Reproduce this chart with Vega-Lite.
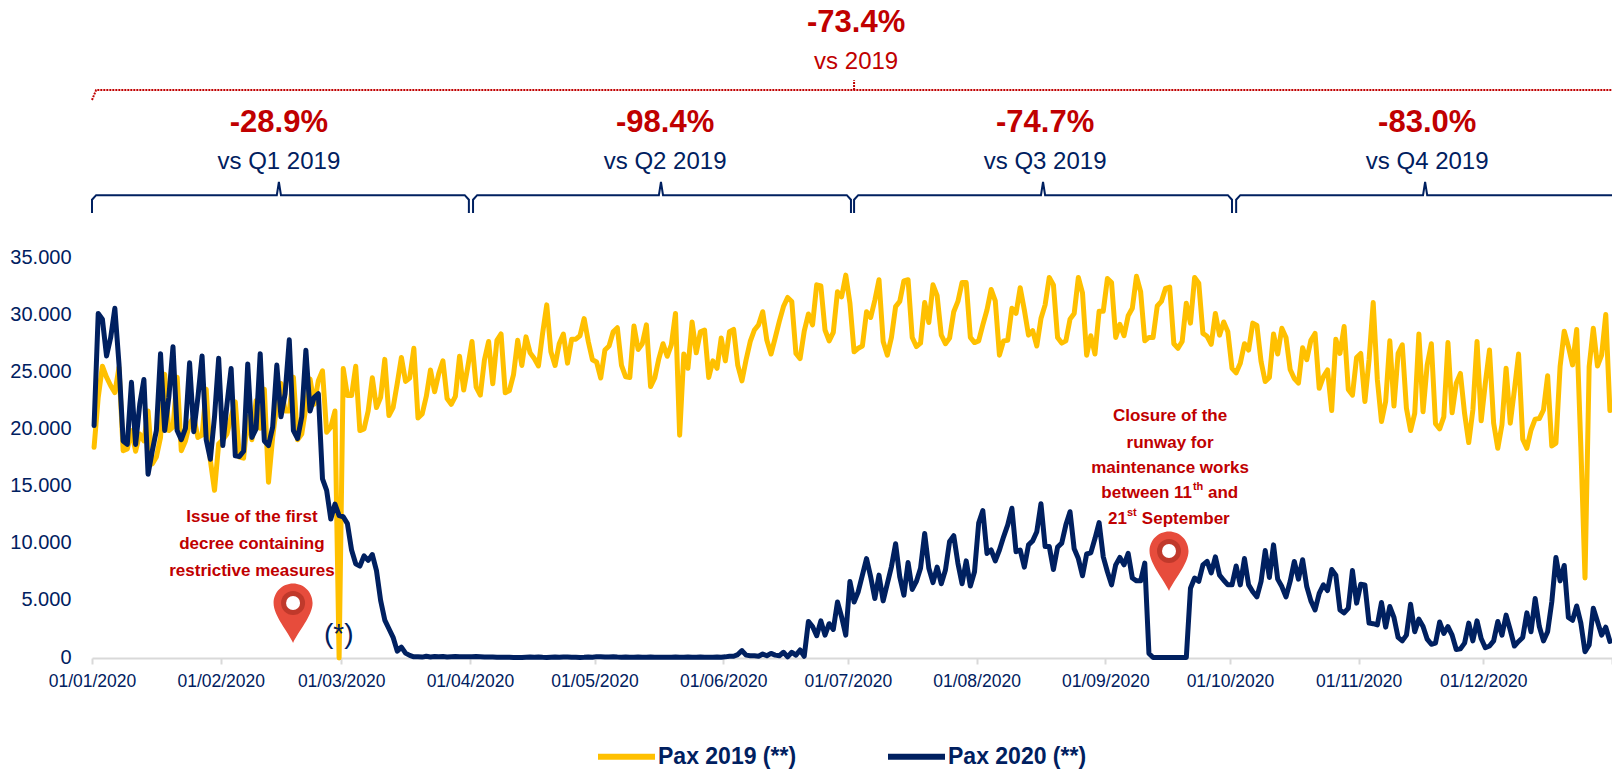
{
"$schema":"https://vega.github.io/schema/vega-lite/v6.json",
"width":1520,"height":400,
"autosize":{"type":"none"},
"padding":{"left":92,"top":258,"right":0,"bottom":111},
"background":"white",
"config":{"view":{"stroke":null},"font":"Liberation Sans"},
"datasets":{
"daily":[
{"date":"2020-01-01","Pax 2019":18440,"Pax 2020":20340},
{"date":"2020-01-02","Pax 2019":22810,"Pax 2020":30150},
{"date":"2020-01-03","Pax 2019":25530,"Pax 2020":29650},
{"date":"2020-01-04","Pax 2019":24570,"Pax 2020":26430},
{"date":"2020-01-05","Pax 2019":23820,"Pax 2020":28040},
{"date":"2020-01-06","Pax 2019":23220,"Pax 2020":30600},
{"date":"2020-01-07","Pax 2019":25430,"Pax 2020":25730},
{"date":"2020-01-08","Pax 2019":18140,"Pax 2020":18990},
{"date":"2020-01-09","Pax 2019":18290,"Pax 2020":18690},
{"date":"2020-01-10","Pax 2019":19900,"Pax 2020":24120},
{"date":"2020-01-11","Pax 2019":18090,"Pax 2020":18690},
{"date":"2020-01-12","Pax 2019":19600,"Pax 2020":22210},
{"date":"2020-01-13","Pax 2019":18990,"Pax 2020":24370},
{"date":"2020-01-14","Pax 2019":21610,"Pax 2020":16080},
{"date":"2020-01-15","Pax 2019":16980,"Pax 2020":18090},
{"date":"2020-01-16","Pax 2019":17590,"Pax 2020":19900},
{"date":"2020-01-17","Pax 2019":19300,"Pax 2020":26630},
{"date":"2020-01-18","Pax 2019":24820,"Pax 2020":19900},
{"date":"2020-01-19","Pax 2019":19900,"Pax 2020":22810},
{"date":"2020-01-20","Pax 2019":20200,"Pax 2020":27240},
{"date":"2020-01-21","Pax 2019":24570,"Pax 2020":19900},
{"date":"2020-01-22","Pax 2019":18140,"Pax 2020":19100},
{"date":"2020-01-23","Pax 2019":18990,"Pax 2020":20100},
{"date":"2020-01-24","Pax 2019":20500,"Pax 2020":25830},
{"date":"2020-01-25","Pax 2019":21100,"Pax 2020":19800},
{"date":"2020-01-26","Pax 2019":19300,"Pax 2020":22810},
{"date":"2020-01-27","Pax 2019":19500,"Pax 2020":26430},
{"date":"2020-01-28","Pax 2019":23520,"Pax 2020":19100},
{"date":"2020-01-29","Pax 2019":17290,"Pax 2020":17390},
{"date":"2020-01-30","Pax 2019":14670,"Pax 2020":21100},
{"date":"2020-01-31","Pax 2019":18740,"Pax 2020":26230},
{"date":"2020-02-01","Pax 2019":19100,"Pax 2020":18590},
{"date":"2020-02-02","Pax 2019":19600,"Pax 2020":22210},
{"date":"2020-02-03","Pax 2019":21100,"Pax 2020":25330},
{"date":"2020-02-04","Pax 2019":22410,"Pax 2020":17690},
{"date":"2020-02-05","Pax 2019":17590,"Pax 2020":17640},
{"date":"2020-02-06","Pax 2019":17490,"Pax 2020":18090},
{"date":"2020-02-07","Pax 2019":21100,"Pax 2020":25730},
{"date":"2020-02-08","Pax 2019":19100,"Pax 2020":19300},
{"date":"2020-02-09","Pax 2019":22510,"Pax 2020":20050},
{"date":"2020-02-10","Pax 2019":20100,"Pax 2020":26630},
{"date":"2020-02-11","Pax 2019":23520,"Pax 2020":18990},
{"date":"2020-02-12","Pax 2019":15380,"Pax 2020":18590},
{"date":"2020-02-13","Pax 2019":19300,"Pax 2020":20200},
{"date":"2020-02-14","Pax 2019":22210,"Pax 2020":25630},
{"date":"2020-02-15","Pax 2019":24020,"Pax 2020":21100},
{"date":"2020-02-16","Pax 2019":21610,"Pax 2020":23120},
{"date":"2020-02-17","Pax 2019":21610,"Pax 2020":27840},
{"date":"2020-02-18","Pax 2019":24570,"Pax 2020":19900},
{"date":"2020-02-19","Pax 2019":19100,"Pax 2020":19200},
{"date":"2020-02-20","Pax 2019":19600,"Pax 2020":21100},
{"date":"2020-02-21","Pax 2019":21910,"Pax 2020":26930},
{"date":"2020-02-22","Pax 2019":24420,"Pax 2020":21610},
{"date":"2020-02-23","Pax 2019":22210,"Pax 2020":22810},
{"date":"2020-02-24","Pax 2019":24270,"Pax 2020":23120},
{"date":"2020-02-25","Pax 2019":25130,"Pax 2020":15680},
{"date":"2020-02-26","Pax 2019":19750,"Pax 2020":14670},
{"date":"2020-02-27","Pax 2019":20200,"Pax 2020":12160},
{"date":"2020-02-28","Pax 2019":21610,"Pax 2020":13470},
{"date":"2020-02-29","Pax 2019":0,"Pax 2020":12460},
{"date":"2020-03-01","Pax 2019":25330,"Pax 2020":12360},
{"date":"2020-03-02","Pax 2019":22960,"Pax 2020":11760},
{"date":"2020-03-03","Pax 2019":22960,"Pax 2020":9450},
{"date":"2020-03-04","Pax 2019":25530,"Pax 2020":8240},
{"date":"2020-03-05","Pax 2019":19900,"Pax 2020":8040},
{"date":"2020-03-06","Pax 2019":20050,"Pax 2020":8940},
{"date":"2020-03-07","Pax 2019":21610,"Pax 2020":8540},
{"date":"2020-03-08","Pax 2019":24520,"Pax 2020":9050},
{"date":"2020-03-09","Pax 2019":21910,"Pax 2020":7640},
{"date":"2020-03-10","Pax 2019":22810,"Pax 2020":5030},
{"date":"2020-03-11","Pax 2019":26130,"Pax 2020":3320},
{"date":"2020-03-12","Pax 2019":21210,"Pax 2020":2560},
{"date":"2020-03-13","Pax 2019":21910,"Pax 2020":1810},
{"date":"2020-03-14","Pax 2019":24020,"Pax 2020":600},
{"date":"2020-03-15","Pax 2019":26300,"Pax 2020":950},
{"date":"2020-03-16","Pax 2019":24200,"Pax 2020":430},
{"date":"2020-03-17","Pax 2019":24500,"Pax 2020":230},
{"date":"2020-03-18","Pax 2019":27100,"Pax 2020":100},
{"date":"2020-03-19","Pax 2019":21000,"Pax 2020":100},
{"date":"2020-03-20","Pax 2019":21350,"Pax 2020":80},
{"date":"2020-03-21","Pax 2019":22900,"Pax 2020":150},
{"date":"2020-03-22","Pax 2019":25200,"Pax 2020":90},
{"date":"2020-03-23","Pax 2019":23300,"Pax 2020":130},
{"date":"2020-03-24","Pax 2019":24900,"Pax 2020":100},
{"date":"2020-03-25","Pax 2019":26000,"Pax 2020":140},
{"date":"2020-03-26","Pax 2019":22700,"Pax 2020":90},
{"date":"2020-03-27","Pax 2019":22200,"Pax 2020":110},
{"date":"2020-03-28","Pax 2019":22900,"Pax 2020":130},
{"date":"2020-03-29","Pax 2019":26400,"Pax 2020":100},
{"date":"2020-03-30","Pax 2019":23450,"Pax 2020":120},
{"date":"2020-03-31","Pax 2019":25500,"Pax 2020":110},
{"date":"2020-04-01","Pax 2019":27700,"Pax 2020":100},
{"date":"2020-04-02","Pax 2019":23700,"Pax 2020":130},
{"date":"2020-04-03","Pax 2019":23000,"Pax 2020":110},
{"date":"2020-04-04","Pax 2019":26100,"Pax 2020":90},
{"date":"2020-04-05","Pax 2019":27700,"Pax 2020":80},
{"date":"2020-04-06","Pax 2019":24000,"Pax 2020":90},
{"date":"2020-04-07","Pax 2019":27800,"Pax 2020":70},
{"date":"2020-04-08","Pax 2019":28350,"Pax 2020":60},
{"date":"2020-04-09","Pax 2019":23200,"Pax 2020":70},
{"date":"2020-04-10","Pax 2019":23400,"Pax 2020":60},
{"date":"2020-04-11","Pax 2019":24800,"Pax 2020":50},
{"date":"2020-04-12","Pax 2019":27800,"Pax 2020":40},
{"date":"2020-04-13","Pax 2019":25600,"Pax 2020":50},
{"date":"2020-04-14","Pax 2019":28100,"Pax 2020":70},
{"date":"2020-04-15","Pax 2019":26700,"Pax 2020":90},
{"date":"2020-04-16","Pax 2019":26200,"Pax 2020":70},
{"date":"2020-04-17","Pax 2019":25550,"Pax 2020":90},
{"date":"2020-04-18","Pax 2019":28400,"Pax 2020":60},
{"date":"2020-04-19","Pax 2019":30900,"Pax 2020":50},
{"date":"2020-04-20","Pax 2019":26800,"Pax 2020":70},
{"date":"2020-04-21","Pax 2019":25600,"Pax 2020":90},
{"date":"2020-04-22","Pax 2019":27500,"Pax 2020":70},
{"date":"2020-04-23","Pax 2019":28350,"Pax 2020":90},
{"date":"2020-04-24","Pax 2019":25800,"Pax 2020":80},
{"date":"2020-04-25","Pax 2019":27900,"Pax 2020":60},
{"date":"2020-04-26","Pax 2019":27900,"Pax 2020":70},
{"date":"2020-04-27","Pax 2019":28200,"Pax 2020":50},
{"date":"2020-04-28","Pax 2019":29700,"Pax 2020":60},
{"date":"2020-04-29","Pax 2019":27700,"Pax 2020":90},
{"date":"2020-04-30","Pax 2019":26100,"Pax 2020":70},
{"date":"2020-05-01","Pax 2019":25900,"Pax 2020":120},
{"date":"2020-05-02","Pax 2019":24500,"Pax 2020":100},
{"date":"2020-05-03","Pax 2019":26950,"Pax 2020":80},
{"date":"2020-05-04","Pax 2019":27300,"Pax 2020":90},
{"date":"2020-05-05","Pax 2019":28550,"Pax 2020":100},
{"date":"2020-05-06","Pax 2019":28900,"Pax 2020":80},
{"date":"2020-05-07","Pax 2019":25600,"Pax 2020":70},
{"date":"2020-05-08","Pax 2019":24600,"Pax 2020":90},
{"date":"2020-05-09","Pax 2019":24550,"Pax 2020":70},
{"date":"2020-05-10","Pax 2019":29050,"Pax 2020":60},
{"date":"2020-05-11","Pax 2019":27000,"Pax 2020":80},
{"date":"2020-05-12","Pax 2019":27500,"Pax 2020":70},
{"date":"2020-05-13","Pax 2019":29150,"Pax 2020":70},
{"date":"2020-05-14","Pax 2019":23750,"Pax 2020":90},
{"date":"2020-05-15","Pax 2019":24500,"Pax 2020":70},
{"date":"2020-05-16","Pax 2019":26200,"Pax 2020":60},
{"date":"2020-05-17","Pax 2019":27500,"Pax 2020":70},
{"date":"2020-05-18","Pax 2019":26400,"Pax 2020":60},
{"date":"2020-05-19","Pax 2019":27400,"Pax 2020":70},
{"date":"2020-05-20","Pax 2019":30150,"Pax 2020":80},
{"date":"2020-05-21","Pax 2019":19500,"Pax 2020":60},
{"date":"2020-05-22","Pax 2019":26600,"Pax 2020":70},
{"date":"2020-05-23","Pax 2019":25350,"Pax 2020":80},
{"date":"2020-05-24","Pax 2019":29400,"Pax 2020":70},
{"date":"2020-05-25","Pax 2019":26700,"Pax 2020":60},
{"date":"2020-05-26","Pax 2019":28550,"Pax 2020":90},
{"date":"2020-05-27","Pax 2019":28700,"Pax 2020":70},
{"date":"2020-05-28","Pax 2019":24550,"Pax 2020":60},
{"date":"2020-05-29","Pax 2019":26000,"Pax 2020":70},
{"date":"2020-05-30","Pax 2019":25350,"Pax 2020":80},
{"date":"2020-05-31","Pax 2019":28000,"Pax 2020":70},
{"date":"2020-06-01","Pax 2019":26000,"Pax 2020":100},
{"date":"2020-06-02","Pax 2019":28550,"Pax 2020":150},
{"date":"2020-06-03","Pax 2019":28750,"Pax 2020":150},
{"date":"2020-06-04","Pax 2019":25600,"Pax 2020":300},
{"date":"2020-06-05","Pax 2019":24250,"Pax 2020":650},
{"date":"2020-06-06","Pax 2019":26100,"Pax 2020":250},
{"date":"2020-06-07","Pax 2019":27700,"Pax 2020":200},
{"date":"2020-06-08","Pax 2019":28700,"Pax 2020":200},
{"date":"2020-06-09","Pax 2019":29150,"Pax 2020":150},
{"date":"2020-06-10","Pax 2019":30300,"Pax 2020":350},
{"date":"2020-06-11","Pax 2019":27800,"Pax 2020":200},
{"date":"2020-06-12","Pax 2019":26600,"Pax 2020":400},
{"date":"2020-06-13","Pax 2019":28000,"Pax 2020":250},
{"date":"2020-06-14","Pax 2019":29450,"Pax 2020":200},
{"date":"2020-06-15","Pax 2019":30750,"Pax 2020":500},
{"date":"2020-06-16","Pax 2019":31550,"Pax 2020":100},
{"date":"2020-06-17","Pax 2019":31200,"Pax 2020":500},
{"date":"2020-06-18","Pax 2019":26650,"Pax 2020":250},
{"date":"2020-06-19","Pax 2019":26200,"Pax 2020":700},
{"date":"2020-06-20","Pax 2019":28600,"Pax 2020":150},
{"date":"2020-06-21","Pax 2019":30100,"Pax 2020":3200},
{"date":"2020-06-22","Pax 2019":29150,"Pax 2020":2750},
{"date":"2020-06-23","Pax 2019":32650,"Pax 2020":1950},
{"date":"2020-06-24","Pax 2019":32550,"Pax 2020":3250},
{"date":"2020-06-25","Pax 2019":28700,"Pax 2020":2000},
{"date":"2020-06-26","Pax 2019":27750,"Pax 2020":3000},
{"date":"2020-06-27","Pax 2019":28500,"Pax 2020":2500},
{"date":"2020-06-28","Pax 2019":32050,"Pax 2020":4900},
{"date":"2020-06-29","Pax 2019":31600,"Pax 2020":3600},
{"date":"2020-06-30","Pax 2019":33500,"Pax 2020":2000},
{"date":"2020-07-01","Pax 2019":31050,"Pax 2020":6700},
{"date":"2020-07-02","Pax 2019":26800,"Pax 2020":4900},
{"date":"2020-07-03","Pax 2019":27100,"Pax 2020":5800},
{"date":"2020-07-04","Pax 2019":27300,"Pax 2020":7250},
{"date":"2020-07-05","Pax 2019":30300,"Pax 2020":8700},
{"date":"2020-07-06","Pax 2019":29800,"Pax 2020":7100},
{"date":"2020-07-07","Pax 2019":31300,"Pax 2020":5200},
{"date":"2020-07-08","Pax 2019":33100,"Pax 2020":7250},
{"date":"2020-07-09","Pax 2019":27700,"Pax 2020":5000},
{"date":"2020-07-10","Pax 2019":26500,"Pax 2020":6500},
{"date":"2020-07-11","Pax 2019":28050,"Pax 2020":8000},
{"date":"2020-07-12","Pax 2019":30750,"Pax 2020":10000},
{"date":"2020-07-13","Pax 2019":31200,"Pax 2020":7100},
{"date":"2020-07-14","Pax 2019":33000,"Pax 2020":5500},
{"date":"2020-07-15","Pax 2019":33100,"Pax 2020":8350},
{"date":"2020-07-16","Pax 2019":28050,"Pax 2020":6000},
{"date":"2020-07-17","Pax 2019":27250,"Pax 2020":6700},
{"date":"2020-07-18","Pax 2019":27550,"Pax 2020":7850},
{"date":"2020-07-19","Pax 2019":31100,"Pax 2020":10900},
{"date":"2020-07-20","Pax 2019":29350,"Pax 2020":7850},
{"date":"2020-07-21","Pax 2019":32650,"Pax 2020":6600},
{"date":"2020-07-22","Pax 2019":31700,"Pax 2020":7950},
{"date":"2020-07-23","Pax 2019":28250,"Pax 2020":6500},
{"date":"2020-07-24","Pax 2019":27500,"Pax 2020":7700},
{"date":"2020-07-25","Pax 2019":28000,"Pax 2020":10200},
{"date":"2020-07-26","Pax 2019":30300,"Pax 2020":10700},
{"date":"2020-07-27","Pax 2019":31200,"Pax 2020":8300},
{"date":"2020-07-28","Pax 2019":32850,"Pax 2020":6500},
{"date":"2020-07-29","Pax 2019":32850,"Pax 2020":8500},
{"date":"2020-07-30","Pax 2019":28050,"Pax 2020":6300},
{"date":"2020-07-31","Pax 2019":27600,"Pax 2020":7550},
{"date":"2020-08-01","Pax 2019":27750,"Pax 2020":11800},
{"date":"2020-08-02","Pax 2019":29150,"Pax 2020":12900},
{"date":"2020-08-03","Pax 2019":30450,"Pax 2020":9150},
{"date":"2020-08-04","Pax 2019":32250,"Pax 2020":9450},
{"date":"2020-08-05","Pax 2019":31250,"Pax 2020":8500},
{"date":"2020-08-06","Pax 2019":26500,"Pax 2020":9450},
{"date":"2020-08-07","Pax 2019":27750,"Pax 2020":10600},
{"date":"2020-08-08","Pax 2019":27800,"Pax 2020":11650},
{"date":"2020-08-09","Pax 2019":30600,"Pax 2020":13100},
{"date":"2020-08-10","Pax 2019":30150,"Pax 2020":9300},
{"date":"2020-08-11","Pax 2019":32400,"Pax 2020":9450},
{"date":"2020-08-12","Pax 2019":30450,"Pax 2020":7950},
{"date":"2020-08-13","Pax 2019":28250,"Pax 2020":9900},
{"date":"2020-08-14","Pax 2019":28650,"Pax 2020":10250},
{"date":"2020-08-15","Pax 2019":27300,"Pax 2020":11050},
{"date":"2020-08-16","Pax 2019":29700,"Pax 2020":13500},
{"date":"2020-08-17","Pax 2019":30900,"Pax 2020":9750},
{"date":"2020-08-18","Pax 2019":33300,"Pax 2020":9750},
{"date":"2020-08-19","Pax 2019":32650,"Pax 2020":7750},
{"date":"2020-08-20","Pax 2019":28050,"Pax 2020":9700},
{"date":"2020-08-21","Pax 2019":27550,"Pax 2020":10050},
{"date":"2020-08-22","Pax 2019":27750,"Pax 2020":11650},
{"date":"2020-08-23","Pax 2019":29650,"Pax 2020":12800},
{"date":"2020-08-24","Pax 2019":30150,"Pax 2020":9550},
{"date":"2020-08-25","Pax 2019":33300,"Pax 2020":8700},
{"date":"2020-08-26","Pax 2019":31950,"Pax 2020":7200},
{"date":"2020-08-27","Pax 2019":26500,"Pax 2020":9100},
{"date":"2020-08-28","Pax 2019":28200,"Pax 2020":9200},
{"date":"2020-08-29","Pax 2019":26600,"Pax 2020":10450},
{"date":"2020-08-30","Pax 2019":30350,"Pax 2020":11850},
{"date":"2020-08-31","Pax 2019":30350,"Pax 2020":8850},
{"date":"2020-09-01","Pax 2019":33200,"Pax 2020":7550},
{"date":"2020-09-02","Pax 2019":32850,"Pax 2020":6400},
{"date":"2020-09-03","Pax 2019":28050,"Pax 2020":8150},
{"date":"2020-09-04","Pax 2019":29200,"Pax 2020":8800},
{"date":"2020-09-05","Pax 2019":28200,"Pax 2020":8150},
{"date":"2020-09-06","Pax 2019":29950,"Pax 2020":9150},
{"date":"2020-09-07","Pax 2019":30600,"Pax 2020":7000},
{"date":"2020-09-08","Pax 2019":33400,"Pax 2020":6750},
{"date":"2020-09-09","Pax 2019":32050,"Pax 2020":6750},
{"date":"2020-09-10","Pax 2019":27750,"Pax 2020":8300},
{"date":"2020-09-11","Pax 2019":28050,"Pax 2020":400},
{"date":"2020-09-12","Pax 2019":28050,"Pax 2020":50},
{"date":"2020-09-13","Pax 2019":30800,"Pax 2020":50},
{"date":"2020-09-14","Pax 2019":31200,"Pax 2020":50},
{"date":"2020-09-15","Pax 2019":32350,"Pax 2020":50},
{"date":"2020-09-16","Pax 2019":32450,"Pax 2020":50},
{"date":"2020-09-17","Pax 2019":27500,"Pax 2020":50},
{"date":"2020-09-18","Pax 2019":27100,"Pax 2020":50},
{"date":"2020-09-19","Pax 2019":27700,"Pax 2020":50},
{"date":"2020-09-20","Pax 2019":31050,"Pax 2020":50},
{"date":"2020-09-21","Pax 2019":29300,"Pax 2020":6100},
{"date":"2020-09-22","Pax 2019":33300,"Pax 2020":7000},
{"date":"2020-09-23","Pax 2019":32800,"Pax 2020":6700},
{"date":"2020-09-24","Pax 2019":28400,"Pax 2020":8150},
{"date":"2020-09-25","Pax 2019":28150,"Pax 2020":8450},
{"date":"2020-09-26","Pax 2019":27450,"Pax 2020":7450},
{"date":"2020-09-27","Pax 2019":30150,"Pax 2020":8850},
{"date":"2020-09-28","Pax 2019":28250,"Pax 2020":7250},
{"date":"2020-09-29","Pax 2019":29400,"Pax 2020":6800},
{"date":"2020-09-30","Pax 2019":28550,"Pax 2020":6400},
{"date":"2020-10-01","Pax 2019":25350,"Pax 2020":6400},
{"date":"2020-10-02","Pax 2019":24950,"Pax 2020":8050},
{"date":"2020-10-03","Pax 2019":25800,"Pax 2020":6400},
{"date":"2020-10-04","Pax 2019":27500,"Pax 2020":8700},
{"date":"2020-10-05","Pax 2019":26950,"Pax 2020":6400},
{"date":"2020-10-06","Pax 2019":29300,"Pax 2020":5800},
{"date":"2020-10-07","Pax 2019":29100,"Pax 2020":5350},
{"date":"2020-10-08","Pax 2019":25950,"Pax 2020":6700},
{"date":"2020-10-09","Pax 2019":24200,"Pax 2020":9400},
{"date":"2020-10-10","Pax 2019":24550,"Pax 2020":7050},
{"date":"2020-10-11","Pax 2019":28350,"Pax 2020":9900},
{"date":"2020-10-12","Pax 2019":26600,"Pax 2020":6900},
{"date":"2020-10-13","Pax 2019":28850,"Pax 2020":6250},
{"date":"2020-10-14","Pax 2019":28050,"Pax 2020":5350},
{"date":"2020-10-15","Pax 2019":25250,"Pax 2020":6700},
{"date":"2020-10-16","Pax 2019":24450,"Pax 2020":8450},
{"date":"2020-10-17","Pax 2019":24050,"Pax 2020":6900},
{"date":"2020-10-18","Pax 2019":27150,"Pax 2020":8600},
{"date":"2020-10-19","Pax 2019":26100,"Pax 2020":6250},
{"date":"2020-10-20","Pax 2019":27800,"Pax 2020":5000},
{"date":"2020-10-21","Pax 2019":28400,"Pax 2020":4200},
{"date":"2020-10-22","Pax 2019":23600,"Pax 2020":5650},
{"date":"2020-10-23","Pax 2019":24600,"Pax 2020":6400},
{"date":"2020-10-24","Pax 2019":25200,"Pax 2020":5900},
{"date":"2020-10-25","Pax 2019":21650,"Pax 2020":7750},
{"date":"2020-10-26","Pax 2019":27900,"Pax 2020":7250},
{"date":"2020-10-27","Pax 2019":26650,"Pax 2020":4200},
{"date":"2020-10-28","Pax 2019":29000,"Pax 2020":3950},
{"date":"2020-10-29","Pax 2019":23500,"Pax 2020":4350},
{"date":"2020-10-30","Pax 2019":23000,"Pax 2020":7650},
{"date":"2020-10-31","Pax 2019":26300,"Pax 2020":4800},
{"date":"2020-11-01","Pax 2019":26650,"Pax 2020":6450},
{"date":"2020-11-02","Pax 2019":22450,"Pax 2020":6400},
{"date":"2020-11-03","Pax 2019":26100,"Pax 2020":3050},
{"date":"2020-11-04","Pax 2019":31100,"Pax 2020":3000},
{"date":"2020-11-05","Pax 2019":24350,"Pax 2020":2900},
{"date":"2020-11-06","Pax 2019":20700,"Pax 2020":4850},
{"date":"2020-11-07","Pax 2019":22450,"Pax 2020":2700},
{"date":"2020-11-08","Pax 2019":27750,"Pax 2020":4500},
{"date":"2020-11-09","Pax 2019":22050,"Pax 2020":3550},
{"date":"2020-11-10","Pax 2019":26650,"Pax 2020":1800},
{"date":"2020-11-11","Pax 2019":27400,"Pax 2020":1500},
{"date":"2020-11-12","Pax 2019":21850,"Pax 2020":2000},
{"date":"2020-11-13","Pax 2019":19900,"Pax 2020":4700},
{"date":"2020-11-14","Pax 2019":21400,"Pax 2020":2300},
{"date":"2020-11-15","Pax 2019":28350,"Pax 2020":3400},
{"date":"2020-11-16","Pax 2019":21550,"Pax 2020":2750},
{"date":"2020-11-17","Pax 2019":25650,"Pax 2020":1650},
{"date":"2020-11-18","Pax 2019":27500,"Pax 2020":1200},
{"date":"2020-11-19","Pax 2019":20500,"Pax 2020":1300},
{"date":"2020-11-20","Pax 2019":20050,"Pax 2020":3150},
{"date":"2020-11-21","Pax 2019":21100,"Pax 2020":2150},
{"date":"2020-11-22","Pax 2019":27600,"Pax 2020":2750},
{"date":"2020-11-23","Pax 2019":21450,"Pax 2020":2000},
{"date":"2020-11-24","Pax 2019":24050,"Pax 2020":750},
{"date":"2020-11-25","Pax 2019":24900,"Pax 2020":800},
{"date":"2020-11-26","Pax 2019":21400,"Pax 2020":1300},
{"date":"2020-11-27","Pax 2019":18850,"Pax 2020":3050},
{"date":"2020-11-28","Pax 2019":21700,"Pax 2020":1500},
{"date":"2020-11-29","Pax 2019":27700,"Pax 2020":3250},
{"date":"2020-11-30","Pax 2019":20750,"Pax 2020":1700},
{"date":"2020-12-01","Pax 2019":24050,"Pax 2020":900},
{"date":"2020-12-02","Pax 2019":26950,"Pax 2020":1050},
{"date":"2020-12-03","Pax 2019":20550,"Pax 2020":1500},
{"date":"2020-12-04","Pax 2019":18350,"Pax 2020":3200},
{"date":"2020-12-05","Pax 2019":20400,"Pax 2020":2000},
{"date":"2020-12-06","Pax 2019":25350,"Pax 2020":3750},
{"date":"2020-12-07","Pax 2019":20550,"Pax 2020":2450},
{"date":"2020-12-08","Pax 2019":23450,"Pax 2020":1050},
{"date":"2020-12-09","Pax 2019":26600,"Pax 2020":1450},
{"date":"2020-12-10","Pax 2019":19150,"Pax 2020":1800},
{"date":"2020-12-11","Pax 2019":18350,"Pax 2020":3950},
{"date":"2020-12-12","Pax 2019":19950,"Pax 2020":2300},
{"date":"2020-12-13","Pax 2019":20900,"Pax 2020":5200},
{"date":"2020-12-14","Pax 2019":20950,"Pax 2020":2750},
{"date":"2020-12-15","Pax 2019":21700,"Pax 2020":1500},
{"date":"2020-12-16","Pax 2019":24700,"Pax 2020":2300},
{"date":"2020-12-17","Pax 2019":18550,"Pax 2020":4900},
{"date":"2020-12-18","Pax 2019":18800,"Pax 2020":8800},
{"date":"2020-12-19","Pax 2019":25500,"Pax 2020":6750},
{"date":"2020-12-20","Pax 2019":28600,"Pax 2020":8100},
{"date":"2020-12-21","Pax 2019":27250,"Pax 2020":3550},
{"date":"2020-12-22","Pax 2019":25650,"Pax 2020":3300},
{"date":"2020-12-23","Pax 2019":28750,"Pax 2020":4550},
{"date":"2020-12-24","Pax 2019":18500,"Pax 2020":3050},
{"date":"2020-12-25","Pax 2019":7000,"Pax 2020":550},
{"date":"2020-12-26","Pax 2019":25500,"Pax 2020":1150},
{"date":"2020-12-27","Pax 2019":28850,"Pax 2020":4350},
{"date":"2020-12-28","Pax 2019":25550,"Pax 2020":3200},
{"date":"2020-12-29","Pax 2019":26500,"Pax 2020":2000},
{"date":"2020-12-30","Pax 2019":30050,"Pax 2020":2700},
{"date":"2020-12-31","Pax 2019":21650,"Pax 2020":1450}
],
"quarterBrackets":[
{"q":"Q1","at":"2020-01-01","level":38940},{"q":"Q1","at":"2020-01-01","level":40100},{"q":"Q1","at":"2020-01-02","level":40500},{"q":"Q1","at":"2020-02-14T12:00:00Z","level":40500},{"q":"Q1","at":"2020-02-15","level":41650},{"q":"Q1","at":"2020-02-15T12:00:00Z","level":40500},{"q":"Q1","at":"2020-03-30T18:00:00Z","level":40500},{"q":"Q1","at":"2020-03-31T18:00:00Z","level":40100},{"q":"Q1","at":"2020-03-31T18:00:00Z","level":38940},
{"q":"Q2","at":"2020-04-01T18:00:00Z","level":38940},{"q":"Q2","at":"2020-04-01T18:00:00Z","level":40100},{"q":"Q2","at":"2020-04-02T18:00:00Z","level":40500},{"q":"Q2","at":"2020-05-16T12:00:00Z","level":40500},{"q":"Q2","at":"2020-05-17","level":41650},{"q":"Q2","at":"2020-05-17T12:00:00Z","level":40500},{"q":"Q2","at":"2020-06-30T18:00:00Z","level":40500},{"q":"Q2","at":"2020-07-01T18:00:00Z","level":40100},{"q":"Q2","at":"2020-07-01T18:00:00Z","level":38940},
{"q":"Q3","at":"2020-07-02T12:00:00Z","level":38940},{"q":"Q3","at":"2020-07-02T12:00:00Z","level":40100},{"q":"Q3","at":"2020-07-03T12:00:00Z","level":40500},{"q":"Q3","at":"2020-08-16T12:00:00Z","level":40500},{"q":"Q3","at":"2020-08-17","level":41650},{"q":"Q3","at":"2020-08-17T12:00:00Z","level":40500},{"q":"Q3","at":"2020-09-30T12:00:00Z","level":40500},{"q":"Q3","at":"2020-10-01T12:00:00Z","level":40100},{"q":"Q3","at":"2020-10-01T12:00:00Z","level":38940},
{"q":"Q4","at":"2020-10-02T12:00:00Z","level":38940},{"q":"Q4","at":"2020-10-02T12:00:00Z","level":40100},{"q":"Q4","at":"2020-10-03T12:00:00Z","level":40500},{"q":"Q4","at":"2020-11-16T12:00:00Z","level":40500},{"q":"Q4","at":"2020-11-17","level":41650},{"q":"Q4","at":"2020-11-17T12:00:00Z","level":40500},{"q":"Q4","at":"2021-01-01","level":40500}
],
"yearBracket":[
{"part":"span","at":"2020-01-01","level":48825},{"part":"span","at":"2020-01-02","level":49700},{"part":"span","at":"2021-01-01","level":49700},
{"part":"mid","at":"2020-07-02T12:00:00Z","level":49700},{"part":"mid","at":"2020-07-02T12:00:00Z","level":50550}
],
"headline":[
{"at":"2020-07-03","level":55600,"label":"-73.4%"},
{"at":"2020-02-15","level":46800,"label":"-28.9%"},
{"at":"2020-05-18","level":46800,"label":"-98.4%"},
{"at":"2020-08-17T12:00:00Z","level":46800,"label":"-74.7%"},
{"at":"2020-11-17T12:00:00Z","level":46800,"label":"-83.0%"}
],
"yearNote":[{"at":"2020-07-03","level":52150,"label":"vs 2019"}],
"quarterNote":[
{"at":"2020-02-15","level":43400,"label":"vs Q1 2019"},
{"at":"2020-05-18","level":43400,"label":"vs Q2 2019"},
{"at":"2020-08-17T12:00:00Z","level":43400,"label":"vs Q3 2019"},
{"at":"2020-11-17T12:00:00Z","level":43400,"label":"vs Q4 2019"}
],
"events":[
{"at":"2020-02-08T12:00:00Z","level":12340,"label":"Issue of the first"},
{"at":"2020-02-08T12:00:00Z","level":10000,"label":"decree containing"},
{"at":"2020-02-08T12:00:00Z","level":7610,"label":"restrictive measures"},
{"at":"2020-09-16T14:00:00Z","level":21175,"label":"Closure of the"},
{"at":"2020-09-16T14:00:00Z","level":18800,"label":"runway for"},
{"at":"2020-09-16T14:00:00Z","level":16625,"label":"maintenance works"}
],
"eventsEnd":[
{"at":"2020-09-21T21:00:00Z","level":14400,"label":"between 11"},
{"at":"2020-09-06T05:00:00Z","level":12160,"label":"21"}
],
"eventsStart":[
{"at":"2020-09-25T17:00:00Z","level":14400,"label":"and"},
{"at":"2020-09-09T19:00:00Z","level":12160,"label":"September"}
],
"eventsSup":[
{"at":"2020-09-22T02:00:00Z","level":14950,"label":"th"},
{"at":"2020-09-06T05:00:00Z","level":12710,"label":"st"}
],
"pins":[
{"at":"2020-02-18T10:00:00Z","level":3940,"head":4810},
{"at":"2020-09-16T08:00:00Z","level":8490,"head":9360}
],
"footnote":[{"at":"2020-02-29T10:00:00Z","level":2000,"label":"(*)"}]
},
"layer":[
{"data":{"name":"daily"},
 "transform":[{"fold":["Pax 2019","Pax 2020"],"as":["series","pax"]}],
 "mark":{"type":"line","strokeWidth":5,"strokeCap":"round","strokeJoin":"round"},
 "encoding":{
  "x":{"field":"date","type":"temporal","timeUnit":"utcyearmonthdate","bandPosition":0.5,"title":null,
   "scale":{"type":"utc","domain":["2020-01-01T00:00:00Z","2021-01-01T00:00:00Z"]},
   "axis":{"tickCount":{"interval":"month","step":1},"labelExpr":"datum.value >= datetime(2020,11,31) ? '' : utcFormat(datum.value,'%d/%m/%Y')","domainColor":"#D9D9D9","domainWidth":2,"tickColor":"#D9D9D9","tickWidth":2,"tickSize":6,"labelColor":"#002060","labelFontSize":17.5,"labelFont":"Liberation Sans","labelPadding":8,"labelOverlap":false,"labelFlush":false,"grid":false}},
  "y":{"field":"pax","type":"quantitative","title":null,"scale":{"domain":[0,35000],"nice":false},
   "axis":{"values":[0,5000,10000,15000,20000,25000,30000,35000],"labelExpr":"replace(format(datum.value,','),',','.')","domain":false,"ticks":false,"grid":false,"labelColor":"#002060","labelFontSize":20,"labelFont":"Liberation Sans","labelPadding":21,"labelOffset":-1}},
  "color":{"field":"series","type":"nominal","scale":{"domain":["Pax 2019","Pax 2020"],"range":["#FFC000","#002060"]},
   "legend":{"title":null,"orient":"none","legendX":503,"legendY":467,"direction":"horizontal","columns":2,"symbolType":"stroke","symbolSize":3249,"symbolStrokeWidth":6,"labelExpr":"datum.label + ' (**)'","labelFont":"Liberation Sans","labelFontWeight":"bold","labelFontSize":23,"labelColor":"#002060","labelOffset":0,"columnPadding":79,"symbolLimit":0}}
 }},
{"data":{"name":"quarterBrackets"},"mark":{"type":"line","color":"#002060","strokeWidth":2},
 "encoding":{"x":{"field":"at","type":"temporal","title":null},"y":{"field":"level","type":"quantitative","title":null},"detail":{"field":"q"},"order":{"field":"none"}}},
{"data":{"name":"yearBracket"},"mark":{"type":"line","color":"#C00000","strokeWidth":2,"strokeDash":[2,1]},
 "encoding":{"x":{"field":"at","type":"temporal","title":null},"y":{"field":"level","type":"quantitative","title":null},"detail":{"field":"part"}}},
{"data":{"name":"headline"},"mark":{"type":"text","color":"#C00000","fontWeight":"bold","fontSize":31,"font":"Liberation Sans","align":"center","baseline":"middle"},
 "encoding":{"x":{"field":"at","type":"temporal","title":null},"y":{"field":"level","type":"quantitative","title":null},"text":{"field":"label"}}},
{"data":{"name":"yearNote"},"mark":{"type":"text","color":"#C00000","fontSize":24,"font":"Liberation Sans","align":"center","baseline":"middle"},
 "encoding":{"x":{"field":"at","type":"temporal","title":null},"y":{"field":"level","type":"quantitative","title":null},"text":{"field":"label"}}},
{"data":{"name":"quarterNote"},"mark":{"type":"text","color":"#002060","fontSize":24,"font":"Liberation Sans","align":"center","baseline":"middle"},
 "encoding":{"x":{"field":"at","type":"temporal","title":null},"y":{"field":"level","type":"quantitative","title":null},"text":{"field":"label"}}},
{"data":{"name":"events"},"mark":{"type":"text","color":"#C00000","fontWeight":"bold","fontSize":17,"font":"Liberation Sans","align":"center","baseline":"middle"},
 "encoding":{"x":{"field":"at","type":"temporal","title":null},"y":{"field":"level","type":"quantitative","title":null},"text":{"field":"label"}}},
{"data":{"name":"eventsEnd"},"mark":{"type":"text","color":"#C00000","fontWeight":"bold","fontSize":17,"font":"Liberation Sans","align":"right","baseline":"middle"},
 "encoding":{"x":{"field":"at","type":"temporal","title":null},"y":{"field":"level","type":"quantitative","title":null},"text":{"field":"label"}}},
{"data":{"name":"eventsStart"},"mark":{"type":"text","color":"#C00000","fontWeight":"bold","fontSize":17,"font":"Liberation Sans","align":"left","baseline":"middle"},
 "encoding":{"x":{"field":"at","type":"temporal","title":null},"y":{"field":"level","type":"quantitative","title":null},"text":{"field":"label"}}},
{"data":{"name":"eventsSup"},"mark":{"type":"text","color":"#C00000","fontWeight":"bold","fontSize":11,"font":"Liberation Sans","align":"left","baseline":"middle"},
 "encoding":{"x":{"field":"at","type":"temporal","title":null},"y":{"field":"level","type":"quantitative","title":null},"text":{"field":"label"}}},
{"data":{"name":"pins"},"mark":{"type":"point","filled":true,"opacity":1,"color":"#E74C3C","size":3600,"shape":"M0,1 C-0.15,0.65 -0.65,0.1 -0.65,-0.33 A0.65,0.65 0 1 1 0.65,-0.33 C0.65,0.1 0.15,0.65 0,1 Z"},
 "encoding":{"x":{"field":"at","type":"temporal","title":null},"y":{"field":"level","type":"quantitative","title":null}}},
{"data":{"name":"pins"},"mark":{"type":"point","shape":"circle","filled":true,"opacity":1,"color":"#C0392B","size":576},
 "encoding":{"x":{"field":"at","type":"temporal","title":null},"y":{"field":"head","type":"quantitative","title":null}}},
{"data":{"name":"pins"},"mark":{"type":"point","shape":"circle","filled":true,"opacity":1,"color":"#FFFFFF","size":196},
 "encoding":{"x":{"field":"at","type":"temporal","title":null},"y":{"field":"head","type":"quantitative","title":null}}},
{"data":{"name":"footnote"},"mark":{"type":"text","color":"#002060","fontSize":28,"font":"Liberation Sans","align":"center","baseline":"middle"},
 "encoding":{"x":{"field":"at","type":"temporal","title":null},"y":{"field":"level","type":"quantitative","title":null},"text":{"field":"label"}}}
]
}
